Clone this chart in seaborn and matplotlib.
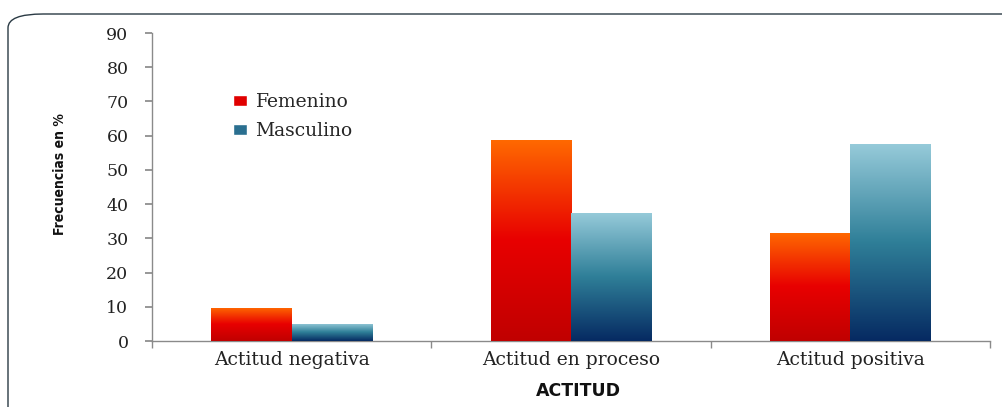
import numpy as np
import pandas as pd
import matplotlib
matplotlib.use("Agg")
import matplotlib.pyplot as plt
import seaborn as sns
from matplotlib.colors import LinearSegmentedColormap
from matplotlib.patches import FancyBboxPatch, Patch

categories = ["Actitud negativa", "Actitud en proceso", "Actitud positiva"]
femenino = [9.7, 58.8, 31.7]
masculino = [5.0, 37.5, 57.6]
series = ["Femenino", "Masculino"]
yticks = [0, 10, 20, 30, 40, 50, 60, 70, 80, 90]

df = pd.DataFrame({
    "Actitud": categories * 2,
    "Frecuencia": femenino + masculino,
    "Sexo": [series[0]] * 3 + [series[1]] * 3,
})

sns.set_theme(style="white")
plt.rcParams["font.family"] = ["DejaVu Serif"]

fig = plt.figure(figsize=(10.03, 4.07), dpi=100)
ax = fig.add_axes([152/1003, 1 - 341/407, (990-152)/1003, (341-33)/407])

sns.barplot(data=df, x="Actitud", y="Frecuencia", hue="Sexo", order=categories,
            hue_order=series, palette=["#e00000", "#2a6f90"], width=0.574, gap=0,
            ax=ax, legend=False, saturation=1)

cmap_f = LinearSegmentedColormap.from_list("f", ["#c00000", "#e80000", "#ff6a00"])
cmap_m = LinearSegmentedColormap.from_list("m", ["#062a62", "#2f7f98", "#97cbda"])
grad = np.linspace(0, 1, 256).reshape(-1, 1)

ax.set_xlim(-0.5, 2.5)
ax.set_ylim(0, 90)
bars = list(ax.patches)
for i, p in enumerate(bars):
    cmap = cmap_f if i < 3 else cmap_m
    x, w, h = p.get_x(), p.get_width(), p.get_height()
    im = ax.imshow(grad, cmap=cmap, origin="lower", extent=[x, x + w, 0, h],
                   aspect="auto", zorder=3)
    im.set_clip_path(p)
    p.set_facecolor("none")
    p.set_edgecolor("none")
ax.set_xlim(-0.5, 2.5)
ax.set_ylim(0, 90)

for s in ["top", "right"]:
    ax.spines[s].set_visible(False)
for s in ["left", "bottom"]:
    ax.spines[s].set_color("#8a8a8a")
    ax.spines[s].set_linewidth(1)

ax.set_yticks(yticks)
ax.set_yticklabels([str(t) for t in yticks], fontsize=12.5, color="#222222")
ax.tick_params(axis="y", direction="out", length=5, color="#8a8a8a", pad=12, left=True)
ax.set_xticks(range(3))
ax.set_xticklabels(categories, fontsize=13.5, color="#222222")
ax.tick_params(axis="x", length=0, pad=7)
ax.set_xticks([-0.5, 0.5, 1.5, 2.5], minor=True)
ax.tick_params(axis="x", which="minor", direction="out", length=5, color="#8a8a8a", bottom=True)

ax.set_xlabel("")
ax.set_ylabel("")
fig.text(578/1003, 1 - 391/407, "ACTITUD", ha="center", va="center",
         fontsize=12.5, fontweight="bold", family=["DejaVu Sans"], color="#111111")
fig.text(60/1003, 1 - 174/407, "Frecuencias en %", rotation=90, ha="center", va="center",
         fontsize=10, fontweight="bold", family=["DejaVu Sans Condensed", "DejaVu Sans"],
         fontstretch="condensed", color="#111111")

handles = [Patch(facecolor="#e00000"), Patch(facecolor="#2a6f90")]
ax.legend(handles, series, loc="upper left",
          bbox_to_anchor=((233 - 152) / 838, (341 - 93) / 308),
          frameon=False, fontsize=13.5, handlelength=0.75, handleheight=0.55,
          handletextpad=0.45, labelspacing=0.6, borderaxespad=0, borderpad=0)

frame = FancyBboxPatch((8/1003, -0.2), 1.2, 1 - 14/407 + 0.2,
                       boxstyle="round,pad=0,rounding_size=0.035",
                       transform=fig.transFigure, facecolor="none",
                       edgecolor="#2a3a44", linewidth=1.0, mutation_aspect=407/1003*2.4)
fig.patches.append(frame)

fig.savefig("out.png", dpi=100)
